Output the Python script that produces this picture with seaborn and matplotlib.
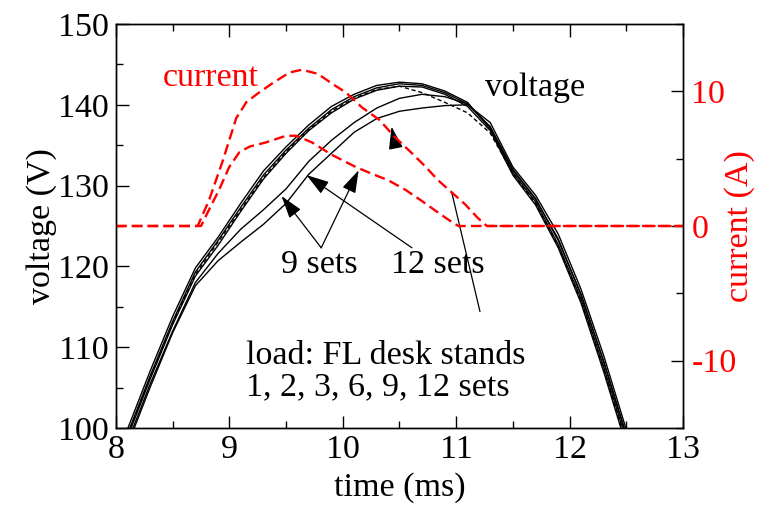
import numpy as np
import pandas as pd
import seaborn as sns
import matplotlib
matplotlib.use('Agg')
import matplotlib.pyplot as plt
from matplotlib.ticker import MultipleLocator

# ============================ data ============================
volt_t = [8.0, 8.1, 8.3, 8.5, 8.7, 8.9, 9.1, 9.3, 9.5, 9.7, 9.9, 10.1, 10.3,
          10.5, 10.7, 10.9, 11.1, 11.3, 11.5, 11.7, 11.9, 12.1, 12.3, 12.5, 12.6]

# 1, 2, 3, 6 sets (bunched), last one is the dashed trace
volt_a = [96.0, 99.8, 107.0, 113.8, 119.8, 123.6, 127.8, 131.8, 134.8, 137.5, 139.8, 141.3, 142.4,
          142.8, 142.6, 141.7, 140.3, 137.0, 131.6, 128.0, 122.7, 116.0, 107.6, 98.5, 94.0]
volt_b = [95.5, 99.2, 106.4, 113.2, 119.3, 123.2, 127.3, 131.3, 134.4, 137.1, 139.4, 141.0, 142.1,
          142.6, 142.4, 141.5, 140.1, 137.3, 132.0, 128.4, 123.2, 116.6, 108.3, 99.2, 94.8]
volt_c = [95.0, 98.8, 106.0, 112.8, 118.8, 122.6, 126.8, 130.8, 134.0, 136.8, 139.0, 140.7, 141.8,
          142.3, 142.2, 141.3, 139.8, 136.8, 131.3, 127.6, 122.3, 115.5, 107.0, 97.8, 93.5]
volt_d = [95.3, 99.0, 106.2, 113.0, 119.0, 123.0, 127.0, 131.0, 134.2, 136.9, 139.2, 140.8, 141.9,
          142.3, 141.5, 140.3, 139.0, 136.5, 131.5, 127.8, 122.5, 115.8, 107.3, 98.2, 93.8]
# 9 sets and 12 sets
volt_9 = [94.8, 98.2, 105.4, 112.0, 118.0, 121.6, 124.6, 127.0, 129.6, 133.0, 135.6, 137.8, 139.6,
          140.8, 141.3, 141.0, 140.1, 137.2, 131.9, 128.3, 123.4, 116.5, 108.2, 99.0, 94.6]
volt_12 = [94.5, 97.8, 105.0, 111.8, 117.6, 120.7, 123.0, 125.2, 127.8, 131.4, 134.0, 136.6, 138.3,
           139.2, 139.6, 139.9, 140.0, 137.8, 132.3, 128.8, 124.0, 117.2, 109.0, 99.8, 95.5]

cur12_t = [8.0, 8.72, 8.82, 8.94, 9.06, 9.15, 9.26, 9.38, 9.53, 9.64, 9.78, 9.90, 10.03, 10.17,
           10.32, 10.46, 10.61, 10.73, 10.84, 10.96, 11.08, 11.19, 11.27, 13.0]
cur12 = [0, 0, 1.9, 4.8, 8.0, 9.2, 9.9, 10.6, 11.4, 11.6, 11.3, 10.6, 9.9, 8.8,
         7.9, 6.6, 5.4, 4.4, 3.4, 2.5, 1.6, 0.6, 0, 0]
cur9_t = [8.0, 8.75, 8.82, 8.91, 9.00, 9.09, 9.18, 9.32, 9.50, 9.59, 9.73, 9.90, 10.11, 10.25,
          10.40, 10.55, 10.69, 10.84, 10.96, 11.02, 13.0]
cur9 = [0, 0, 1.2, 2.7, 4.4, 5.5, 5.9, 6.2, 6.7, 6.7, 6.2, 5.3, 4.4, 3.9,
        3.4, 2.7, 1.9, 1.0, 0.3, 0, 0]

volt_df = pd.DataFrame({'time': volt_t * 6,
                        'voltage': volt_a + volt_b + volt_c + volt_d + volt_9 + volt_12,
                        'load': ['a'] * 25 + ['b'] * 25 + ['c'] * 25 + ['d'] * 25 + ['9'] * 25 + ['12'] * 25})

# ================================ plotting ================================
sns.set_theme(style='ticks')
plt.rcParams['font.family'] = ['Liberation Serif', 'DejaVu Serif']
plt.rcParams['axes.unicode_minus'] = False
plt.rcParams['text.color'] = 'black'
plt.rcParams['axes.labelcolor'] = 'black'
plt.rcParams['xtick.color'] = 'black'
plt.rcParams['ytick.color'] = 'black'
font_size = 24.5

fig = plt.figure(figsize=(7.62, 5.07), dpi=100)
ax = fig.add_axes([0.1522, 0.1558, 0.7441, 0.7969])

for name in ['a', 'b', 'c', '9', '12']:
    sns.lineplot(data=volt_df[volt_df['load'] == name], x='time', y='voltage', ax=ax,
                 color='black', lw=1.0, estimator=None)
sns.lineplot(data=volt_df[volt_df['load'] == 'd'], x='time', y='voltage', ax=ax,
             color='black', lw=1.0, estimator=None, linestyle=(0, (3, 2)))

ax.set_xlim(8, 13)
ax.set_ylim(100, 150)
ax.xaxis.set_major_locator(MultipleLocator(1))
ax.xaxis.set_minor_locator(MultipleLocator(0.5))
ax.yaxis.set_major_locator(MultipleLocator(10))
ax.yaxis.set_minor_locator(MultipleLocator(5))
ax.tick_params(which='both', direction='in', top=True, right=False, width=1, colors='black',
               labelsize=font_size)
ax.tick_params(which='major', length=9, pad=5)
ax.tick_params(which='minor', length=5)
ax.set_xlabel('time (ms)', fontsize=font_size, labelpad=5)
ax.set_ylabel('voltage (V)', fontsize=font_size, labelpad=1)

ax2 = ax.twinx()
sns.lineplot(x=cur12_t, y=cur12, ax=ax2, color='#ff0000', lw=1.7, linestyle=(0, (4.5, 2.2)),
             estimator=None)
sns.lineplot(x=cur9_t, y=cur9, ax=ax2, color='#ff0000', lw=1.7, linestyle=(0, (4.5, 2.2)),
             estimator=None)
ax2.set_ylim(-15, 15)
ax2.yaxis.set_major_locator(MultipleLocator(10))
ax2.yaxis.set_minor_locator(MultipleLocator(5))
ax2.tick_params(which='both', direction='in', width=1, colors='black', labelsize=font_size,
                labelcolor='#ff0000')
ax2.tick_params(which='major', length=9, pad=6)
ax2.tick_params(which='minor', length=5)
ax2.set_ylabel('current (A)', fontsize=font_size, color='#ff0000')
ax2.yaxis.label.set_verticalalignment('center')
ax2.yaxis.set_label_coords(1.10, 0.5)

for a in (ax, ax2):
    for sp in a.spines.values():
        sp.set_linewidth(1.0)
        sp.set_color('black')

# text annotations (placed in voltage coordinates)
ax.text(8.84, 143.4, 'current', color='#ff0000', fontsize=font_size, ha='center', va='center')
ax.text(11.70, 142.1, 'voltage', color='black', fontsize=font_size, ha='center', va='center')
ax.text(9.79, 120.2, '9 sets', fontsize=font_size, ha='center', va='center')
ax.text(10.84, 120.2, '12 sets', fontsize=font_size, ha='center', va='center')
ax.text(9.15, 109.0, 'load: FL desk stands', fontsize=font_size, ha='left', va='center')
ax.text(9.15, 105.1, '1, 2, 3, 6, 9, 12 sets', fontsize=font_size, ha='left', va='center')

arrow = dict(arrowstyle='-|>,head_length=0.7,head_width=0.22', color='black', lw=0.9,
             mutation_scale=20, shrinkA=0, shrinkB=0)
ax.annotate('', xy=(9.46, 128.7), xytext=(9.81, 122.3), arrowprops=arrow)
ax.annotate('', xy=(10.14, 131.9), xytext=(9.81, 122.3), arrowprops=arrow)
ax.annotate('', xy=(9.68, 131.3), xytext=(10.61, 122.3), arrowprops=arrow)
ax.annotate('', xy=(10.96, 129.2), xytext=(11.21, 114.4),
            arrowprops=dict(arrowstyle='-', color='black', lw=0.9, shrinkA=0, shrinkB=0))
ax.annotate('', xy=(10.43, 137.3), xytext=(10.465, 134.8), arrowprops=arrow)

plt.savefig('out.png', dpi=100)
